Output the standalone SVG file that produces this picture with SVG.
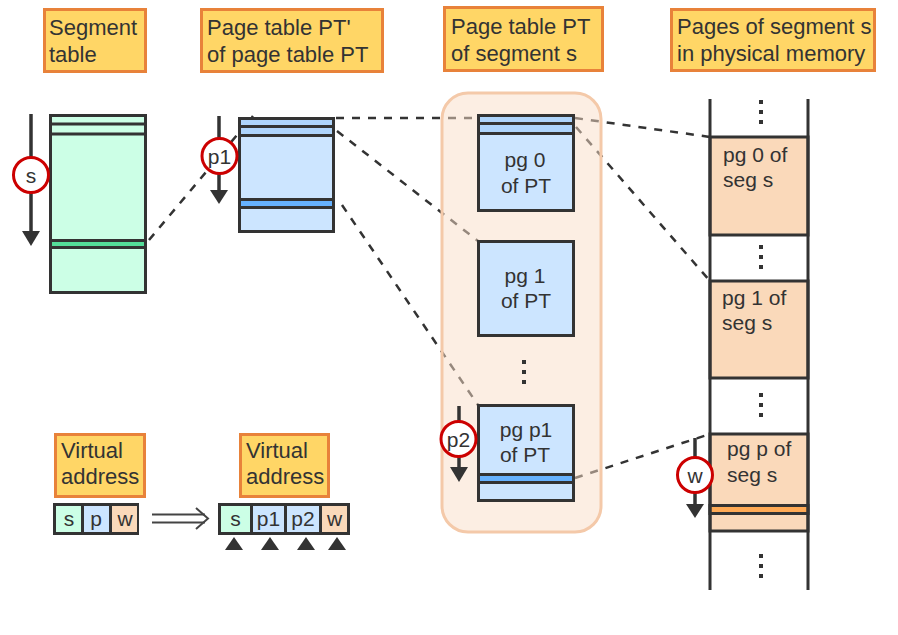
<svg xmlns="http://www.w3.org/2000/svg" width="898" height="635" viewBox="0 0 898 635">
<defs>
<style>
text{font-family:"Liberation Sans",Arial,sans-serif;fill:#333333}
.lbl{fill:#FFD666;stroke:#E8823A;stroke-width:3}
.lt{font-size:22px}
.bt{font-size:21px}
.dk{stroke:#333333;stroke-width:3}
.dash{stroke:#333333;stroke-width:2.5;stroke-dasharray:8 8;fill:none}
.grn{fill:#CCFFE6;stroke:#333333;stroke-width:3}
.blu{fill:#CCE5FF;stroke:#333333;stroke-width:3}
.blt{fill:#AED4FB;stroke:#333333;stroke-width:3}
.bhl{fill:#66B2FF;stroke:#333333;stroke-width:3}
.pch{fill:#FAD9BA;stroke:#333333;stroke-width:3}
.circ{fill:#ffffff;stroke:#CC0000;stroke-width:3}
.arr{stroke:#333333;stroke-width:3.5}
.dot{fill:#333333}
.tri{fill:#333333}
.ct{text-anchor:middle}
</style>
<g id="vdots">
<rect x="-2" y="-12" width="4" height="4"/>
<rect x="-2" y="-2" width="4" height="4"/>
<rect x="-2" y="8" width="4" height="4"/>
</g>
</defs>

<g id="connectors">
<line class="dash" x1="149" y1="240" x2="253" y2="116"/>
<line class="dash" x1="336" y1="118" x2="478" y2="118"/>
<line class="dash" x1="337" y1="131" x2="478" y2="241"/>
<line class="dash" x1="342" y1="205" x2="478" y2="405"/>
<line class="dash" x1="575" y1="118" x2="710" y2="137"/>
<line class="dash" x1="576" y1="127" x2="710" y2="281"/>
<line class="dash" x1="575" y1="478" x2="710" y2="434"/>
</g>

<g id="container">
<rect x="442" y="93" width="159" height="439" rx="26" fill="#F9DDC7" fill-opacity="0.5" stroke="#F4C9A9" stroke-width="3"/>
</g>

<!-- labels -->
<g id="lbl-segtable">
<rect class="lbl" x="44.5" y="9.5" width="101" height="62"/>
<text class="lt" x="49" y="35">Segment</text>
<text class="lt" x="49" y="62">table</text>
</g>
<g id="lbl-ptprime">
<rect class="lbl" x="201.5" y="9.5" width="181" height="62"/>
<text class="lt" x="207" y="35">Page table PT'</text>
<text class="lt" x="207" y="62">of page table PT</text>
</g>
<g id="lbl-pt">
<rect class="lbl" x="444.5" y="7.5" width="158" height="63"/>
<text class="lt" x="451" y="34">Page table PT</text>
<text class="lt" x="451" y="61">of segment s</text>
</g>
<g id="lbl-pages">
<rect class="lbl" x="671.5" y="9.5" width="203" height="61"/>
<text class="lt" x="677" y="34">Pages of segment s</text>
<text class="lt" x="677" y="61">in physical memory</text>
</g>

<!-- segment table -->
<g id="segtable">
<rect class="grn" x="50.5" y="115.5" width="95" height="177"/>
<line class="dk" x1="50" y1="124" x2="146" y2="124"/>
<line class="dk" x1="50" y1="134" x2="146" y2="134"/>
<rect x="50.5" y="240.5" width="95" height="7" fill="#55DD99" stroke="#333333" stroke-width="3"/>
</g>
<g id="arrow-s">
<line class="arr" x1="31" y1="114" x2="31" y2="232"/>
<polygon class="tri" points="22,231 40,231 31,246"/>
<circle class="circ" cx="31" cy="175" r="17.5"/>
<text class="bt ct" x="31" y="183">s</text>
</g>

<!-- PT' -->
<g id="ptprime">
<rect class="blu" x="239.5" y="118.5" width="94" height="113"/>
<rect class="blt" x="239.5" y="118.5" width="94" height="8"/>
<rect class="blt" x="239.5" y="126.5" width="94" height="9"/>
<rect class="bhl" x="239.5" y="199.5" width="94" height="8"/>
</g>
<g id="arrow-p1">
<line class="arr" x1="219" y1="116" x2="219" y2="191"/>
<polygon class="tri" points="210,190 228,190 219,204"/>
<circle class="circ" cx="219.5" cy="156" r="17.5"/>
<text class="bt ct" x="219.5" y="164">p1</text>
</g>

<!-- PT pages -->
<g id="pg0">
<rect class="blu" x="478.5" y="115.5" width="95" height="95"/>
<rect class="blt" x="478.5" y="115.5" width="95" height="8"/>
<rect class="blt" x="478.5" y="123.5" width="95" height="10"/>
<text class="bt ct" x="525" y="167">pg 0</text>
<text class="bt ct" x="526" y="193">of PT</text>
</g>
<g id="pg1">
<rect class="blu" x="478.5" y="241.5" width="95" height="94"/>
<text class="bt ct" x="525" y="283">pg 1</text>
<text class="bt ct" x="526" y="308">of PT</text>
</g>
<use href="#vdots" class="dot" x="524" y="372"/>
<g id="pgp1">
<rect class="blu" x="478.5" y="405.5" width="95" height="95"/>
<rect class="bhl" x="478.5" y="474.5" width="95" height="8"/>
<text class="bt ct" x="526" y="437">pg p1</text>
<text class="bt ct" x="525" y="462">of PT</text>
</g>
<g id="arrow-p2">
<line class="arr" x1="459" y1="406" x2="459" y2="469"/>
<polygon class="tri" points="450,467 468,467 459,482"/>
<circle class="circ" cx="458.5" cy="439" r="17.5"/>
<text class="bt ct" x="458.5" y="447">p2</text>
</g>

<!-- physical memory -->
<g id="memory">
<rect class="pch" x="710" y="137" width="98" height="98"/>
<rect class="pch" x="710" y="281" width="98" height="97"/>
<rect class="pch" x="710" y="434" width="98" height="97"/>
<rect x="710" y="505.5" width="98" height="8" fill="#FFAA55" stroke="#333333" stroke-width="3"/>
<line class="dk" x1="710" y1="99" x2="710" y2="590"/>
<line class="dk" x1="808" y1="99" x2="808" y2="590"/>
<use href="#vdots" class="dot" x="761" y="112"/>
<use href="#vdots" class="dot" x="761" y="257"/>
<use href="#vdots" class="dot" x="761" y="405"/>
<use href="#vdots" class="dot" x="761" y="566"/>
<text class="bt" x="723" y="162">pg 0 of</text>
<text class="bt" x="723" y="187">seg s</text>
<text class="bt" x="722" y="305">pg 1 of</text>
<text class="bt" x="722" y="330">seg s</text>
<text class="bt" x="727" y="456">pg p of</text>
<text class="bt" x="727" y="482">seg s</text>
</g>
<g id="arrow-w">
<line class="arr" x1="695" y1="438" x2="695" y2="505"/>
<polygon class="tri" points="686,504 704,504 695,518"/>
<circle class="circ" cx="695" cy="475" r="17.5"/>
<text class="bt ct" x="695" y="483">w</text>
</g>

<!-- virtual address 1 -->
<g id="lbl-va1">
<rect class="lbl" x="55.5" y="434.5" width="89" height="62"/>
<text class="lt" x="61" y="458">Virtual</text>
<text class="lt" x="61" y="484">address</text>
</g>
<g id="va1">
<rect x="53" y="503" width="86" height="32" fill="#333333"/>
<rect x="56" y="506" width="25" height="26" fill="#CCFFE6"/>
<rect x="84" y="506" width="25" height="26" fill="#CCE5FF"/>
<rect x="112" y="506" width="25" height="26" fill="#FAD9BA"/>
<text class="bt ct" x="69" y="526">s</text>
<text class="bt ct" x="96" y="526">p</text>
<text class="bt ct" x="125" y="526">w</text>
</g>
<g id="implies">
<line x1="152" y1="514.5" x2="205" y2="514.5" stroke="#444444" stroke-width="2"/>
<line x1="152" y1="522.5" x2="205" y2="522.5" stroke="#444444" stroke-width="2"/>
<polyline points="196,508 208,518.5 196,529" fill="none" stroke="#444444" stroke-width="2"/>
</g>

<!-- virtual address 2 -->
<g id="lbl-va2">
<rect class="lbl" x="240.5" y="434.5" width="88" height="62"/>
<text class="lt" x="246" y="458">Virtual</text>
<text class="lt" x="246" y="484">address</text>
</g>
<g id="va2">
<rect x="218" y="503" width="132" height="32" fill="#333333"/>
<rect x="221" y="506" width="29" height="26" fill="#CCFFE6"/>
<rect x="253" y="506" width="31" height="26" fill="#CCE5FF"/>
<rect x="287" y="506" width="32" height="26" fill="#CCE5FF"/>
<rect x="322" y="506" width="25" height="26" fill="#FAD9BA"/>
<text class="bt ct" x="235.5" y="526">s</text>
<text class="bt ct" x="268.5" y="526">p1</text>
<text class="bt ct" x="303" y="526">p2</text>
<text class="bt ct" x="334.5" y="526">w</text>
<polygon class="tri" points="225,550 243,550 234,537"/>
<polygon class="tri" points="261,550 279,550 270,537"/>
<polygon class="tri" points="297,550 315,550 306,537"/>
<polygon class="tri" points="328,550 346,550 337,537"/>
</g>
</svg>
